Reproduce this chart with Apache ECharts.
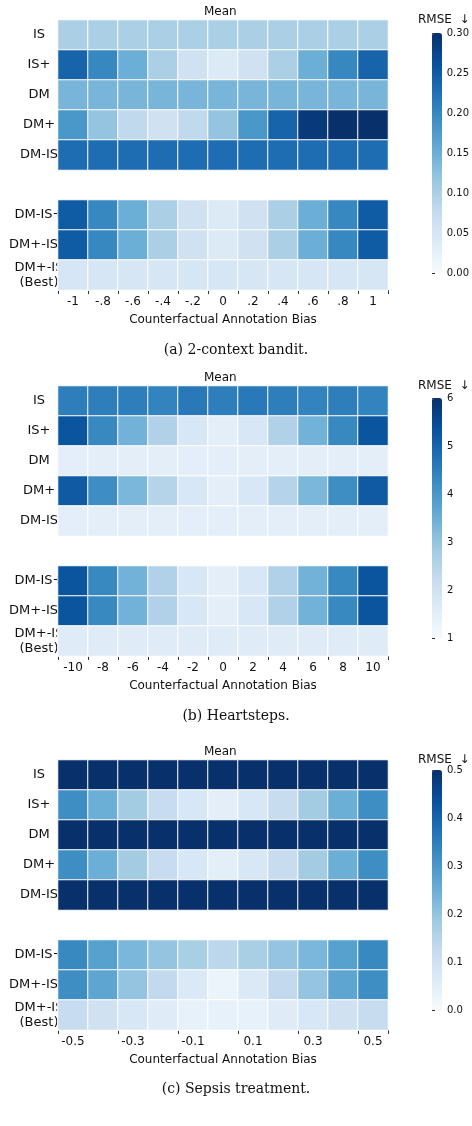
<!DOCTYPE html>
<html><head><meta charset="utf-8">
<script src="https://cdn.jsdelivr.net/npm/echarts@6/dist/echarts.min.js"></script>
<style>html,body{margin:0;background:#fff}#c{width:472px;height:1126px}</style>
</head><body><div id="c"></div>
<script>
// 行标签（空字符串为分组间隔）
const rowLabels = ['IS', 'IS+', 'DM', 'DM+', 'DM-IS', '', 'DM-IS+', 'DM+-IS+', 'DM+-IS\n(Best)'];
const xLabelsA = ['-1', '-.8', '-.6', '-.4', '-.2', '0', '.2', '.4', '.6', '.8', '1'];
const xLabelsB = ['-10', '-8', '-6', '-4', '-2', '0', '2', '4', '6', '8', '10'];
const xLabelsC = ['-0.5', '-0.4', '-0.3', '-0.2', '-0.1', '0', '0.1', '0.2', '0.3', '0.4', '0.5'];

// (a) 2-context bandit
const valuesA = [
  [0.10,0.10,0.10,0.10,0.10,0.10,0.10,0.10,0.10,0.10,0.10],
  [0.24,0.20,0.15,0.10,0.06,0.04,0.06,0.10,0.15,0.20,0.24],
  [0.14,0.14,0.14,0.14,0.14,0.14,0.14,0.14,0.14,0.14,0.14],
  [0.18,0.12,0.08,0.06,0.08,0.12,0.18,0.24,0.29,0.30,0.30],
  [0.23,0.23,0.23,0.23,0.23,0.23,0.23,0.23,0.23,0.23,0.23],
  null,
  [0.25,0.20,0.15,0.10,0.06,0.04,0.06,0.10,0.15,0.20,0.25],
  [0.25,0.20,0.15,0.10,0.06,0.04,0.06,0.10,0.15,0.20,0.25],
  [0.05,0.05,0.05,0.05,0.05,0.05,0.05,0.05,0.05,0.05,0.05]
];
// (b) Heartsteps
const valuesB = [
  [4.5,4.5,4.5,4.4,4.6,4.5,4.6,4.5,4.4,4.5,4.4],
  [5.3,4.3,3.4,2.6,1.8,1.5,1.8,2.6,3.4,4.3,5.3],
  [1.5,1.5,1.5,1.5,1.5,1.5,1.5,1.5,1.5,1.5,1.5],
  [5.2,4.2,3.3,2.5,1.8,1.5,1.8,2.5,3.3,4.2,5.2],
  [1.5,1.5,1.5,1.5,1.5,1.5,1.5,1.5,1.5,1.5,1.5],
  null,
  [5.3,4.3,3.4,2.6,1.8,1.5,1.8,2.6,3.4,4.3,5.3],
  [5.3,4.3,3.4,2.6,1.8,1.5,1.8,2.6,3.4,4.3,5.3],
  [1.6,1.6,1.6,1.6,1.6,1.6,1.6,1.6,1.6,1.6,1.6]
];
// (c) Sepsis treatment
const valuesC = [
  [0.5,0.5,0.5,0.5,0.5,0.5,0.5,0.5,0.5,0.5,0.5],
  [0.32,0.25,0.18,0.12,0.08,0.05,0.08,0.12,0.18,0.25,0.32],
  [0.5,0.5,0.5,0.5,0.5,0.5,0.5,0.5,0.5,0.5,0.5],
  [0.32,0.25,0.18,0.12,0.08,0.05,0.08,0.12,0.18,0.25,0.32],
  [0.5,0.5,0.5,0.5,0.5,0.5,0.5,0.5,0.5,0.5,0.5],
  null,
  [0.33,0.28,0.23,0.20,0.17,0.14,0.17,0.20,0.23,0.28,0.33],
  [0.32,0.27,0.20,0.13,0.07,0.03,0.07,0.13,0.20,0.27,0.32],
  [0.12,0.10,0.08,0.06,0.04,0.04,0.04,0.06,0.08,0.10,0.12]
];

const blues = ['#f7fbff','#deebf7','#c6dbef','#9ecae1','#6baed6','#4292c6','#2171b5','#08519c','#08306b'];
const font = 'DejaVu Sans';

const panels = [
  { top: 20, xLabels: xLabelsA, values: valuesA, min: 0, max: 0.3, step: 0.05, dec: 2, cbTop: 33, caption: '(a) 2-context bandit.', capY: 352 },
  { top: 386, xLabels: xLabelsB, values: valuesB, min: 1, max: 6, step: 1, dec: 0, cbTop: 398, caption: '(b) Heartsteps.', capY: 718 },
  { top: 760, xLabels: xLabelsC, values: valuesC, min: 0, max: 0.5, step: 0.1, dec: 1, cbTop: 770, caption: '(c) Sepsis treatment.', capY: 1091 }
];

const option = { animation: false, backgroundColor: '#fff', grid: [], xAxis: [], yAxis: [], series: [], visualMap: [], graphic: [] };

panels.forEach((p, i) => {
  const data = [];
  p.values.forEach((row, r) => {
    if (!row) return;
    row.forEach((v, c) => data.push([c, rowLabels.length - 1 - r, v]));
  });
  // 热力图网格
  option.grid.push({ left: 58, width: 330, top: p.top, height: 270 });
  option.xAxis.push({
    gridIndex: 2 * i, type: 'category', data: p.xLabels,
    axisLine: { show: false }, axisTick: { show: true, length: 4, lineStyle: { color: '#333' } },
    axisLabel: { color: '#111', fontFamily: font, fontSize: 12, margin: 6 },
    name: 'Counterfactual Annotation Bias', nameLocation: 'middle', nameGap: 24,
    nameTextStyle: { color: '#111', fontFamily: font, fontSize: 12 }
  });
  option.yAxis.push({
    gridIndex: 2 * i, type: 'category', data: rowLabels.slice().reverse(),
    axisLine: { show: false }, axisTick: { show: false },
    axisLabel: { color: '#111', fontFamily: font, fontSize: 13, margin: 10, align: 'center', lineHeight: 15, padding: [0, 18, 0, 0] }
  });
  // 色条刻度
  option.grid.push({ left: 432, width: 10, top: p.cbTop, height: 240 });
  option.xAxis.push({ gridIndex: 2 * i + 1, type: 'value', show: false });
  option.yAxis.push({
    gridIndex: 2 * i + 1, type: 'value', position: 'right', min: p.min, max: p.max, interval: p.step,
    splitLine: { show: false }, axisLine: { show: false },
    axisTick: { show: true, length: 3, lineStyle: { color: '#333' } },
    axisLabel: { color: '#111', fontFamily: font, fontSize: 10, margin: 5, formatter: v => v.toFixed(p.dec) }
  });
  option.series.push({
    type: 'heatmap', xAxisIndex: 2 * i, yAxisIndex: 2 * i, data,
    itemStyle: { borderColor: '#fff', borderWidth: 1 }
  });
  option.visualMap.push({
    seriesIndex: i, min: p.min, max: p.max, calculable: false, orient: 'vertical',
    left: 432, top: p.cbTop, itemWidth: 10, itemHeight: 240, text: null, showLabel: false,
    inRange: { color: blues }, textStyle: { fontSize: 0 }, padding: 0
  });
  option.graphic.push(
    { type: 'text', left: 'center', top: p.top - 14, style: { text: 'Mean', x: 223, fontFamily: font, fontSize: 12, fill: '#111' }, left: 204 },
    { type: 'text', left: 418, top: p.top - 6, style: { text: 'RMSE  ↓', fontFamily: font, fontSize: 12, fill: '#111' } },
    { type: 'text', left: 'center', top: p.capY - 9, style: { text: p.caption, fontFamily: 'DejaVu Serif', fontSize: 14, fill: '#111' } }
  );
});

echarts.init(document.getElementById('c')).setOption(option);
</script></body></html>
